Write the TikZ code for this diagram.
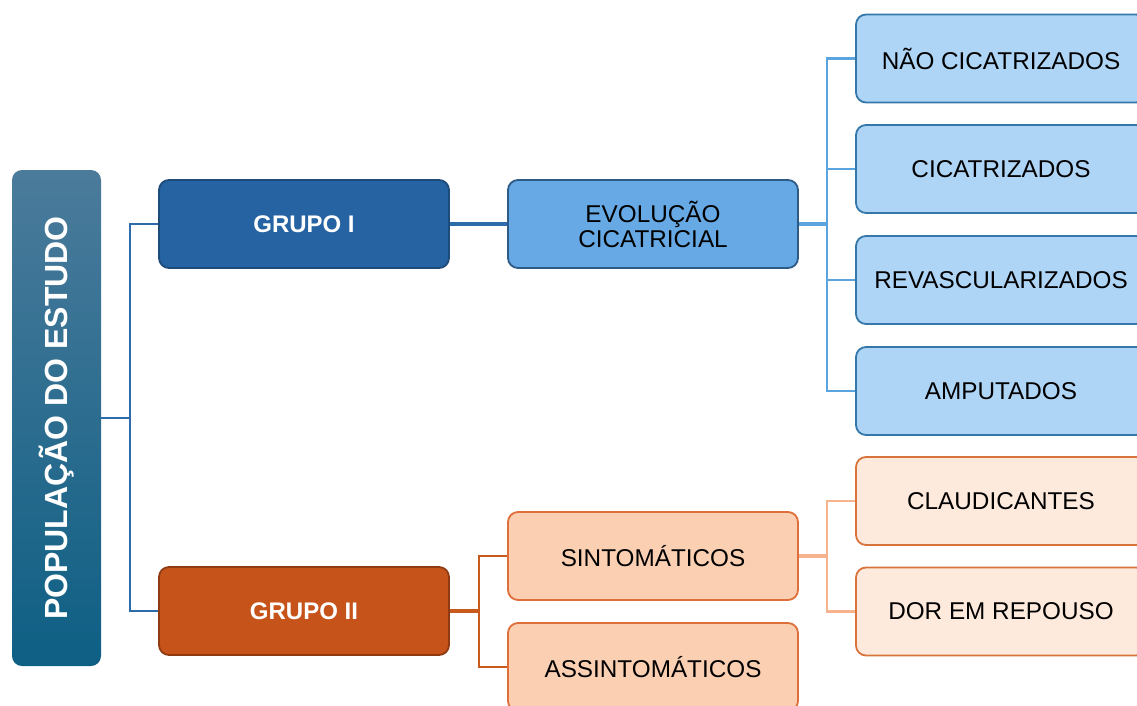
\documentclass[tikz,border=0pt]{standalone}
\usepackage{fontspec}
\setmainfont{Liberation Sans}
\usepackage{xcolor}

\definecolor{popTop}{HTML}{4B7B9B}
\definecolor{popBot}{HTML}{0E5F84}
\definecolor{grpOneFill}{HTML}{2563A2}
\definecolor{grpOneDraw}{HTML}{1E4C7A}
\definecolor{grpTwoFill}{HTML}{C6541A}
\definecolor{grpTwoDraw}{HTML}{8E3B12}
\definecolor{evoFill}{HTML}{66A9E4}
\definecolor{evoDraw}{HTML}{2D5B85}
\definecolor{leafFill}{HTML}{AED4F6}
\definecolor{leafDraw}{HTML}{3477A8}
\definecolor{sinFill}{HTML}{FBCFB2}
\definecolor{sinDraw}{HTML}{DE6E3A}
\definecolor{claFill}{HTML}{FEEADC}
\definecolor{claDraw}{HTML}{D9733C}
\definecolor{lnBlue}{HTML}{2E6BAA}
\definecolor{lnLight}{HTML}{5AA5E0}
\definecolor{lnOrange}{HTML}{C85A1E}
\definecolor{lnPeach}{HTML}{F6B38E}

\begin{document}
\begin{tikzpicture}[x=1pt,y=-1pt,
        box/.style={rounded corners=10pt, line width=1.8pt, inner sep=0pt,
            minimum width=290pt, minimum height=88pt, align=center,
            font=\fontsize{24.3}{25}\selectfont},
        grpbox/.style={box, text=white, font=\fontsize{24}{24}\selectfont\bfseries},
        leaf/.style={box, fill=leafFill, draw=leafDraw},
        sympt/.style={box, fill=sinFill, draw=sinDraw},
        sub/.style={box, fill=claFill, draw=claDraw}]
    \useasboundingbox (0,0) rectangle (1137,706);
            % root
            \node[rounded corners=10pt, inner sep=0pt, minimum width=89pt, minimum height=496pt,
                top color=popTop, bottom color=popBot] (pop) at (56.5,418) {};
            \node[rotate=90, text=white, font=\fontsize{32}{34}\selectfont\bfseries] (poptxt) at (pop.center) {POPULAÇÃO DO ESTUDO};
            % groups
            \node[grpbox, fill=grpOneFill, draw=grpOneDraw] (g1) at (304,224) {GRUPO I};
            \node[grpbox, fill=grpTwoFill, draw=grpTwoDraw] (g2) at (304,611) {GRUPO II};
            \node[box, fill=evoFill, draw=evoDraw] (evo) at (653,224) {EVOLUÇÃO\\CICATRICIAL};
            \node[sympt] (sin) at (653,556) {SINTOMÁTICOS};
            \node[sympt] (asin) at (653,667) {ASSINTOMÁTICOS};
            % leaves
            \node[leaf] (nc) at (1001,58.5) {NÃO CICATRIZADOS};
            \node[leaf] (ci) at (1001,169) {CICATRIZADOS};
            \node[leaf] (rv) at (1001,280) {REVASCULARIZADOS};
            \node[leaf] (am) at (1001,391) {AMPUTADOS};
            \node[sub] (cl) at (1001,501) {CLAUDICANTES};
            \node[sub] (dr) at (1001,611.5) {DOR EM REPOUSO};
            % connectors
            \coordinate (j1) at (130,418);
            \coordinate (j2) at (827,224);
            \coordinate (j3) at (479,611);
            \coordinate (j4) at (827,556);
            \draw[lnBlue, line width=2.6pt] (pop.east) -- (j1);
            \draw[lnBlue, line width=2.6pt] (g1.west) -| (j1) |- (g2.west);
            \draw[lnBlue, line width=3.2pt] (g1.east) -- (evo.west);
            \draw[lnLight, line width=3.2pt] (evo.east) -- (j2);
            \foreach \n in {nc,ci,rv,am}
                \draw[lnLight, line width=2.6pt] (j2) |- (\n.west);
            \draw[lnOrange, line width=3.2pt] (g2.east) -- (j3);
            \draw[lnOrange, line width=2.6pt] (sin.west) -| (j3) |- (asin.west);
            \draw[lnPeach, line width=3.2pt] (sin.east) -- (j4);
            \draw[lnPeach, line width=2.6pt] (cl.west) -| (j4) |- (dr.west);
        \end{tikzpicture}
\end{document}
